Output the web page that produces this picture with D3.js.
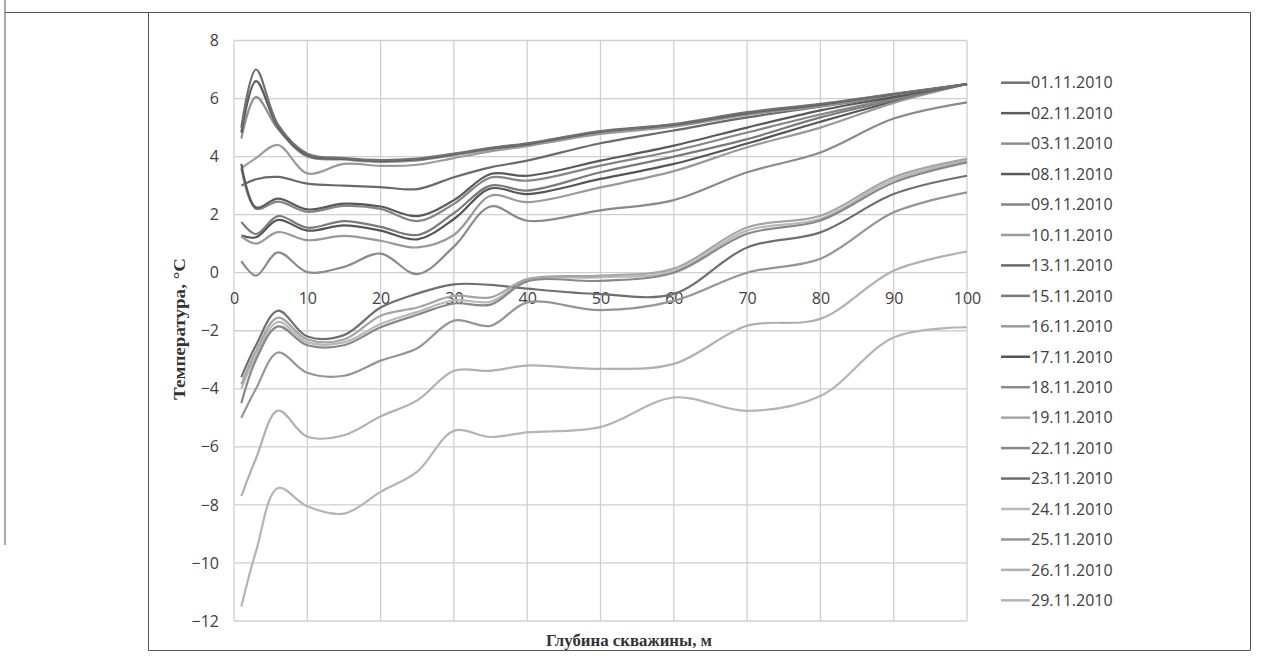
<!DOCTYPE html>
<html>
<head>
<meta charset="utf-8">
<script src="https://cdn.jsdelivr.net/npm/d3@7"></script>
<style>
  html, body { margin: 0; padding: 0; background: #fff; }
  svg { display: block; }
</style>
</head>
<body>
<svg id="chart" width="1262" height="664"></svg>
<script>
// Depth of the measuring points along the borehole, m
const depths = [1, 3, 6, 10, 15, 20, 25, 30, 35, 40, 50, 60, 70, 80, 90, 100];

// Measurement dates (legend order)
const dates = ["01.11.2010", "02.11.2010", "03.11.2010", "08.11.2010", "09.11.2010",
  "10.11.2010", "13.11.2010", "15.11.2010", "16.11.2010", "17.11.2010", "18.11.2010",
  "19.11.2010", "22.11.2010", "23.11.2010", "24.11.2010", "25.11.2010", "26.11.2010",
  "29.11.2010"];

// Temperature profiles, °C, one per date
const t0111 = [5.0, 7.0, 5.1, 4.1, 3.95, 3.88, 3.93, 4.1, 4.3, 4.46, 4.88, 5.12, 5.53, 5.82, 6.16, 6.5];
const t0211 = [4.82, 6.6, 5.02, 4.05, 3.92, 3.85, 3.9, 4.08, 4.28, 4.43, 4.86, 5.1, 5.5, 5.79, 6.15, 6.5];
const t0311 = [4.62, 6.05, 4.95, 4.0, 3.9, 3.82, 3.87, 4.05, 4.25, 4.4, 4.83, 5.08, 5.47, 5.76, 6.13, 6.5];
const t0811 = [3.75, 2.25, 2.55, 2.18, 2.38, 2.28, 1.95, 2.5, 3.4, 3.34, 3.86, 4.38, 5.0, 5.59, 6.05, 6.5];
const t0911 = [3.6, 2.2, 2.45, 2.1, 2.3, 2.2, 1.78, 2.37, 3.28, 3.17, 3.69, 4.2, 4.83, 5.45, 6.0, 6.5];
const t1011 = [3.6, 3.95, 4.4, 3.42, 3.75, 3.68, 3.72, 3.95, 4.18, 4.36, 4.78, 5.03, 5.44, 5.74, 6.12, 6.5];
const t1311 = [3.0, 3.22, 3.3, 3.07, 3.0, 2.95, 2.88, 3.29, 3.63, 3.86, 4.46, 4.9, 5.35, 5.72, 6.08, 6.5];
const t1511 = [1.75, 1.33, 1.95, 1.55, 1.78, 1.58, 1.3, 2.05, 3.0, 2.83, 3.46, 4.0, 4.6, 5.35, 5.95, 6.5];
const t1611 = [1.25, 1.0, 1.4, 1.12, 1.27, 1.1, 0.87, 1.3, 2.65, 2.43, 2.94, 3.5, 4.32, 5.0, 5.85, 6.5];
const t1711 = [1.28, 1.22, 1.82, 1.45, 1.63, 1.45, 1.15, 1.85, 2.9, 2.71, 3.23, 3.75, 4.45, 5.2, 5.9, 6.5];
const t1811 = [0.4, -0.1, 0.7, 0.02, 0.2, 0.66, -0.05, 0.9, 2.28, 1.79, 2.15, 2.5, 3.46, 4.14, 5.31, 5.87];
const t1911 = [-3.85, -2.7, -1.55, -2.3, -2.3, -1.48, -1.2, -0.8, -0.85, -0.22, -0.1, 0.14, 1.56, 1.96, 3.29, 3.92];
const t2211 = [-4.5, -3.0, -1.85, -2.5, -2.5, -1.88, -1.45, -1.06, -1.1, -0.3, -0.28, 0.0, 1.34, 1.8, 3.11, 3.8];
const t2311 = [-3.6, -2.5, -1.31, -2.2, -2.15, -1.2, -0.72, -0.4, -0.42, -0.55, -0.74, -0.73, 0.87, 1.39, 2.71, 3.34];
const t2411 = [-4.0, -2.85, -1.7, -2.4, -2.4, -1.77, -1.35, -0.95, -1.0, -0.26, -0.16, 0.05, 1.45, 1.86, 3.2, 3.85];
const t2511 = [-5.0, -4.0, -2.75, -3.45, -3.55, -3.03, -2.6, -1.65, -1.83, -1.02, -1.29, -0.97, 0.0, 0.48, 2.08, 2.77];
const t2611 = [-7.7, -6.4, -4.75, -5.65, -5.6, -4.95, -4.4, -3.38, -3.38, -3.2, -3.31, -3.14, -1.83, -1.59, 0.07, 0.73];
const t2911 = [-11.5, -9.6, -7.42, -8.05, -8.3, -7.55, -6.85, -5.45, -5.66, -5.5, -5.32, -4.3, -4.76, -4.25, -2.23, -1.88];

const profiles = [t0111, t0211, t0311, t0811, t0911, t1011, t1311, t1511, t1611,
  t1711, t1811, t1911, t2211, t2311, t2411, t2511, t2611, t2911];

// Line greys, one per date
const colors = ["#707070", "#5c5c5c", "#8e8e8e", "#5a5a5a", "#858585", "#9a9a9a",
  "#6a6a6a", "#7a7a7a", "#999999", "#555555", "#8a8a8a", "#a5a5a5", "#888888",
  "#6e6e6e", "#b8b8b8", "#959595", "#b0b0b0", "#b4b4b4"];

const xTicks = d3.range(0, 101, 10);
const yTicks = d3.range(-12, 9, 2);

const svg = d3.select("#chart");

// Outer frame
const frame = svg.append("g").attr("fill", "none").attr("stroke", "#555").attr("stroke-width", 1);
frame.append("path").attr("d", "M5,0V545");
frame.append("path").attr("d", "M5,12.5H1250.5V650.5H148.5V12.5");

const x = d3.scaleLinear().domain([0, 100]).range([234, 967]);
const y = d3.scaleLinear().domain([-12, 8]).range([621, 40.5]);

// Grid
const grid = svg.append("g").attr("stroke", "#cfcfcf").attr("stroke-width", 1.3);
grid.selectAll(".gx").data(xTicks).join("line")
  .attr("x1", d => x(d)).attr("x2", d => x(d))
  .attr("y1", y(8)).attr("y2", y(-12));
grid.selectAll(".gy").data(yTicks).join("line")
  .attr("x1", x(0)).attr("x2", x(100))
  .attr("y1", d => y(d)).attr("y2", d => y(d));

const font = "'Open Sans', sans-serif";

// Y axis labels
const yAxis = svg.append("g")
  .attr("transform", `translate(${x(0)},0)`)
  .call(d3.axisLeft(y).tickValues(yTicks).tickSize(0).tickPadding(15));
yAxis.select(".domain").remove();
yAxis.selectAll("text").attr("font-family", font).attr("font-size", 16).attr("fill", "#404040");

// X axis labels sit on the zero line
const xAxis = svg.append("g")
  .attr("transform", `translate(0,${y(0)})`)
  .call(d3.axisBottom(x).tickValues(xTicks).tickSize(0).tickPadding(19.5));
xAxis.select(".domain").remove();
xAxis.selectAll("text").attr("font-family", font).attr("font-size", 16).attr("fill", "#404040");

// Profiles
const line = d3.line()
  .x((d, i) => x(depths[i]))
  .y(d => y(d))
  .curve(d3.curveCatmullRom.alpha(0.5));

svg.append("g").attr("fill", "none")
  .selectAll("path")
  .data(profiles.map((p, i) => ({ p, i })).reverse())
  .join("path")
  .attr("d", d => line(d.p))
  .attr("stroke", d => colors[d.i])
  .attr("stroke-width", 2.2)
  .attr("stroke-linejoin", "round");

// Axis titles
svg.append("text")
  .attr("transform", `translate(185,329) rotate(-90)`)
  .attr("text-anchor", "middle")
  .attr("font-family", "'Liberation Serif', serif")
  .attr("font-weight", "bold")
  .attr("font-size", 17)
  .attr("textLength", 142)
  .attr("lengthAdjust", "spacingAndGlyphs")
  .attr("fill", "#333")
  .text("Температура, °C");

svg.append("text")
  .attr("x", 629).attr("y", 646)
  .attr("text-anchor", "middle")
  .attr("font-family", "'Liberation Serif', serif")
  .attr("font-weight", "bold")
  .attr("font-size", 16)
  .attr("textLength", 166)
  .attr("lengthAdjust", "spacingAndGlyphs")
  .attr("fill", "#333")
  .text("Глубина скважины, м");

// Legend
const legend = svg.append("g");
const rows = legend.selectAll("g").data(dates).join("g")
  .attr("transform", (d, i) => `translate(1001,${82.7 + 30.45 * i})`);
rows.append("line")
  .attr("x1", 0).attr("x2", 29)
  .attr("stroke", (d, i) => colors[i])
  .attr("stroke-width", 2.5);
rows.append("text")
  .attr("x", 30).attr("dy", "0.36em")
  .attr("font-family", font).attr("font-size", 16)
  .attr("fill", "#404040")
  .text(d => d);
</script>
</body>
</html>
